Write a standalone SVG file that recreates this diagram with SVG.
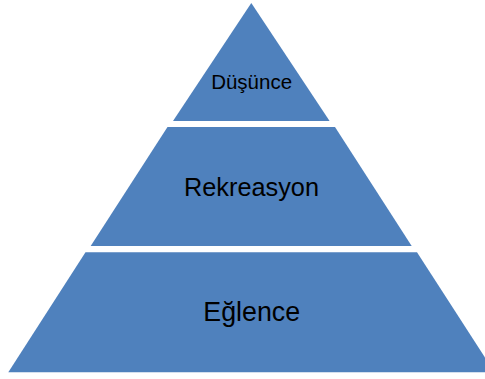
<svg xmlns="http://www.w3.org/2000/svg" width="485" height="379" viewBox="0 0 485 379">
<style>
.tier{fill:#4F81BD;stroke:none}
.lbl{font-family:"Liberation Sans",Arial,sans-serif;fill:#000;text-anchor:middle}
</style>
<rect width="485" height="379" fill="#fff"/>
<g id="tier-dusunce">
<polygon class="tier" points="251.3,3 173,121 329.6,121"/>
<text class="lbl" x="251.6" y="89" font-size="20.5">Düşünce</text>
</g>
<g id="tier-rekreasyon">
<polygon class="tier" points="167.5,127 335,127 411.7,246 90.7,246"/>
<text class="lbl" x="251.5" y="195.7" font-size="25.3">Rekreasyon</text>
</g>
<g id="tier-eglence">
<polygon class="tier" points="85.5,252.3 417,252.3 494.5,372.3 8.3,372.3"/>
<text class="lbl" x="251.7" y="321" font-size="26.8">Eğlence</text>
</g>
<g id="connectors"/>
</svg>
